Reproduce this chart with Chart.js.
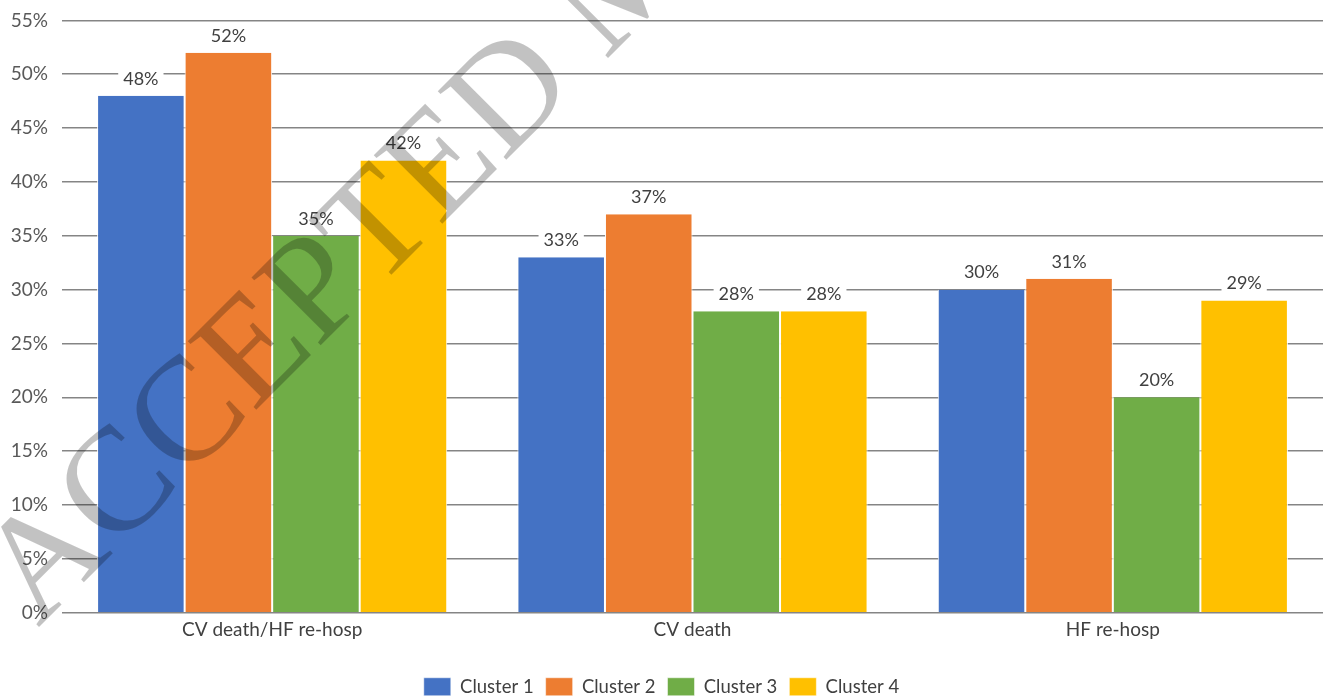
<!DOCTYPE html>
<html>
<head>
<meta charset="utf-8">
<script src="https://cdn.jsdelivr.net/npm/chart.js@4.4.1/dist/chart.umd.min.js"></script>
<style>
    html, body { margin: 0; padding: 0; background: #fff; overflow: hidden; }
    #wrap { position: relative; top: -5px; width: 1323px; height: 711px; }
</style>
</head>
<body>
<div id="wrap"><canvas id="outcomes"></canvas></div>
<script>
var outcomes = ['CV death/HF re-hosp', 'CV death', 'HF re-hosp'];
var clusterNames = ['Cluster 1', 'Cluster 2', 'Cluster 3', 'Cluster 4'];
var cluster1 = [48, 33, 30];
var cluster2 = [52, 37, 31];
var cluster3 = [35, 28, 20];
var cluster4 = [42, 28, 29];
var clusterColors = ['#4472c4', '#ed7d31', '#70ad47', '#ffc000'];

var fontName = 'Lato';

// percent labels above each bar, on a white patch so gridlines don't run through
var valueLabels = {
    id: 'valueLabels',
    afterDatasetsDraw: function(chart) {
        var ctx = chart.ctx;
        ctx.save();
        ctx.font = '18px ' + fontName;
        ctx.textAlign = 'center';
        ctx.textBaseline = 'middle';
        chart.data.datasets.forEach(function(ds, i) {
            var meta = chart.getDatasetMeta(i);
            meta.data.forEach(function(bar, j) {
                var txt = ds.data[j] + '%';
                var w = ctx.measureText(txt).width + 10;
                var y = bar.y - 17;
                ctx.fillStyle = '#fff';
                ctx.fillRect(bar.x - w / 2, y - 10, w, 20);
                ctx.fillStyle = '#404040';
                ctx.fillText(txt, bar.x, y);
            });
        });
        ctx.restore();
    }
};

var watermark = {
    id: 'watermark',
    afterDraw: function(chart) {
        var ctx = chart.ctx;
        ctx.save();
        ctx.translate(38, 633);
        ctx.rotate(-45 * Math.PI / 180);
        ctx.font = '148px "Liberation Serif"';
        ctx.fillStyle = 'rgba(0,0,0,0.24)';
        ctx.textBaseline = 'alphabetic';
        ctx.fillText('ACCEPTED MANUSCRIPT', 0, 0);
        ctx.restore();
    }
};

var sets = [cluster1, cluster2, cluster3, cluster4].map(function(vals, i) {
    return {
        label: clusterNames[i],
        data: vals,
        backgroundColor: clusterColors[i],
        borderColor: '#fff',
        borderWidth: { left: 1, right: 1, top: 0, bottom: 0 },
        borderSkipped: false,
        categoryPercentage: 0.833,
        barPercentage: 1.0
    };
});

new Chart(document.getElementById('outcomes'), {
    type: 'bar',
    data: { labels: outcomes, datasets: sets },
    options: {
        responsive: true,
        maintainAspectRatio: false,
        animation: false,
        layout: { padding: { top: 3, right: 0, bottom: 0, left: 0 } },
        plugins: {
            legend: {
                position: 'bottom',
                labels: {
                    boxWidth: 27,
                    boxHeight: 18,
                    padding: 12,
                    color: '#404040',
                    font: { family: fontName, size: 18.5 }
                }
            },
            tooltip: { enabled: false }
        },
        scales: {
            x: {
                grid: { display: false },
                border: { display: false },
                ticks: { color: '#404040', font: { family: fontName, size: 19 }, padding: -2 },
                // extra room between the category names and the legend
                afterFit: function(scale) { scale.height += 26; }
            },
            y: {
                min: 0,
                max: 55,
                ticks: {
                    stepSize: 5,
                    color: '#595959',
                    font: { family: fontName, size: 19 },
                    padding: 14,
                    callback: function(v) { return v + '%'; }
                },
                grid: { color: '#858585', lineWidth: 1.5, drawTicks: false },
                border: { display: false },
                afterFit: function(scale) { scale.width = 62; }
            }
        }
    },
    plugins: [valueLabels, watermark]
});
</script>
</body>
</html>
